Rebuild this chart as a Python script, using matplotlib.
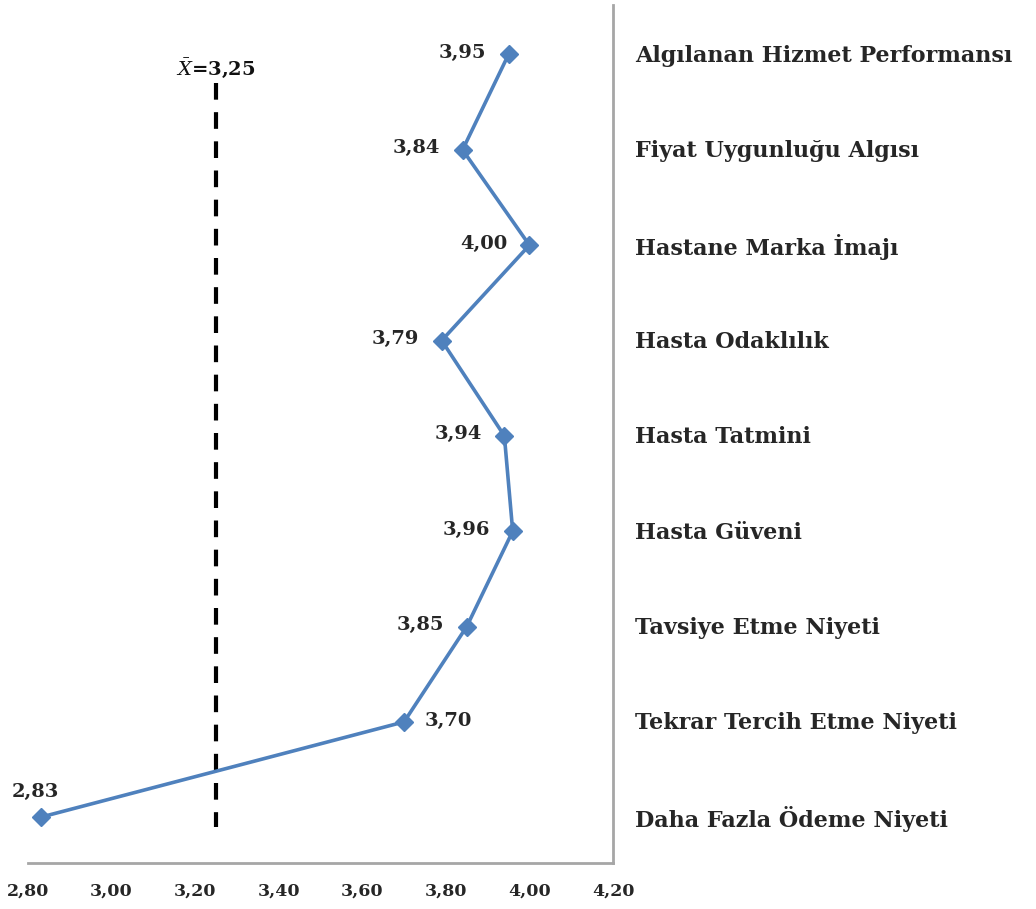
import matplotlib
matplotlib.use("Agg")
import matplotlib.pyplot as plt

categories = ["Algılanan Hizmet Performansı", "Fiyat Uygunluğu Algısı", "Hastane Marka İmajı",
              "Hasta Odaklılık", "Hasta Tatmini", "Hasta Güveni", "Tavsiye Etme Niyeti",
              "Tekrar Tercih Etme Niyeti", "Daha Fazla Ödeme Niyeti"]
values = [3.95, 3.84, 4.00, 3.79, 3.94, 3.96, 3.85, 3.70, 2.83]
mean_value = 3.25
xticks = [2.80, 3.00, 3.20, 3.40, 3.60, 3.80, 4.00, 4.20]

plt.rcParams['font.family'] = ['DejaVu Serif']
plt.rcParams['mathtext.fontset'] = 'dejavuserif'

fig = plt.figure(figsize=(10.36, 9.09), dpi=100)
ax = fig.add_axes([0.027, 0.0506, 0.5647, 0.944])

ypos = list(range(len(categories)))
ax.plot(values, ypos, color='#4F81BD', lw=2.6, marker='D', markersize=9, zorder=3)

ax.set_xlim(2.80, 4.20)
ax.set_ylim(8.48, -0.52)

# mean line
ax.plot([mean_value, mean_value], [0.3, 8.1], color='black', lw=3, ls=(0, (4, 3)), zorder=2)
ax.text(mean_value, 0.15, r'$\bar{X}$=3,25', ha='center', va='center', fontsize=14,
        fontweight='bold', color='#111111')

txtc = '#262626'
for i, v in enumerate(values):
    lab = f"{v:.2f}".replace('.', ',')
    if i == len(values) - 1:
        ax.annotate(lab, (v, i), xytext=(-4, 18), textcoords='offset points',
                    ha='center', va='center', fontsize=14, fontweight='bold', color=txtc)
    elif i == len(values) - 2:
        ax.annotate(lab, (v, i), xytext=(15, 1), textcoords='offset points',
                    ha='left', va='center', fontsize=14, fontweight='bold', color=txtc)
    else:
        ax.annotate(lab, (v, i), xytext=(-16, 1), textcoords='offset points',
                    ha='right', va='center', fontsize=14, fontweight='bold', color=txtc)
    ax.annotate(categories[i], (1, i), xycoords=('axes fraction', 'data'),
                xytext=(16, -1), textcoords='offset points', ha='left', va='center',
                fontsize=16, fontweight='bold', color=txtc, annotation_clip=False)

ax.set_xticks(xticks)
ax.set_xticklabels([f"{t:.2f}".replace('.', ',') for t in xticks], fontsize=12.5,
                   fontweight='bold', color=txtc)
ax.tick_params(axis='x', length=0, pad=14)
ax.set_yticks([])
for s in ['left', 'top']:
    ax.spines[s].set_visible(False)
for s in ['right', 'bottom']:
    ax.spines[s].set_color('#A6A6A6')
    ax.spines[s].set_linewidth(2)

fig.savefig('out.png', dpi=100)
